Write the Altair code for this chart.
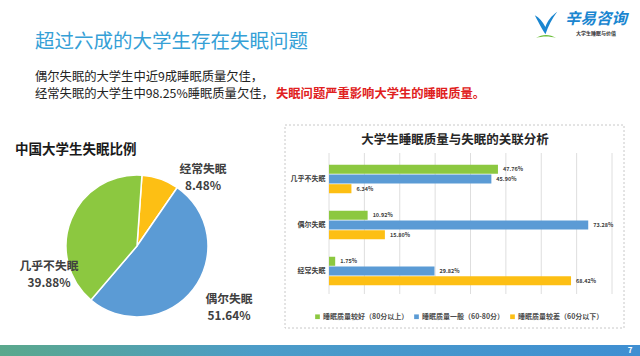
import math
import altair as alt
import pandas as pd

FONT = "Noto Sans CJK SC"

# ---------------- data ----------------
title_text = "超过六成的大学生存在失眠问题"
line1_text = "偶尔失眠的大学生中近9成睡眠质量欠佳，"
line2a_text = "经常失眠的大学生中98.25%睡眠质量欠佳，"
line2b_text = "失眠问题严重影响大学生的睡眠质量。"
logo_text = "辛易咨询"
logo_sub = "大学生睡眠与价值"
page_no = "7"

pie_title = "中国大学生失眠比例"
pie_categories = ["经常失眠", "偶尔失眠", "几乎不失眠"]
pie_values = [8.48, 51.64, 39.88]

bar_title = "大学生睡眠质量与失眠的关联分析"
bar_categories = ["几乎不失眠", "偶尔失眠", "经常失眠"]
series_names = ["睡眠质量较好（80分以上）", "睡眠质量一般（60-80分）", "睡眠质量较差（60分以下）"]
good_values = [47.76, 10.92, 1.75]
normal_values = [45.90, 73.28, 29.82]
poor_values = [6.34, 15.80, 68.42]
x_ticks = [0, 10, 20, 30, 40, 50, 60, 70, 80]

# ---------------- styles ----------------
pie_colors = ["#fdbf14", "#5b9bd5", "#8cc840"]
bar_colors = ["#8cc840", "#5b9bd5", "#fdbf14"]
TEXT_DARK = "#404040"

# ---------------- tables ----------------
pie_df = pd.DataFrame({
    "category": pie_categories,
    "value": pie_values,
    "idx": list(range(len(pie_categories))),
})
pie_df["pct"] = [f"{v:.2f}%" for v in pie_values]

rows = []
for i, cat in enumerate(bar_categories):
    for s, vals in zip(series_names, [good_values, normal_values, poor_values]):
        rows.append({"category": cat, "series": s, "value": vals[i], "label": f"{vals[i]:.2f}%"})
bar_df = pd.DataFrame(rows)
tick_df = pd.DataFrame({"tick": x_ticks})
one = pd.DataFrame({"d": [0]})


def txt(s, x, y, size, color=TEXT_DARK, weight="normal", align="left", style="normal"):
    return alt.Chart(pd.DataFrame({"t": [s]})).mark_text(
        font=FONT, fontSize=size, color=color, fontWeight=weight, align=align,
        baseline="middle", fontStyle=style,
    ).encode(text="t:N", x=alt.value(x), y=alt.value(y))


# ---------------- decorations ----------------
band = alt.Chart(one).mark_rect(
    color=alt.LinearGradient(
        gradient="linear", x1=0, x2=1, y1=0, y2=0,
        stops=[alt.GradientStop(color="#5aa88c", offset=0),
               alt.GradientStop(color="#4c9cc8", offset=0.4),
               alt.GradientStop(color="#3f8fd2", offset=1)],
    )
).encode(x=alt.value(0), x2=alt.value(640), y=alt.value(345), y2=alt.value(356))

box = alt.Chart(one).mark_rect(
    fillOpacity=0, stroke="#c8c8c8", strokeWidth=1, strokeDash=[2, 2]
).encode(x=alt.value(285), x2=alt.value(624), y=alt.value(125), y2=alt.value(328))

leaf = alt.Chart(one).mark_point(
    shape="M -1 -0.7 C -0.6 0.1 -0.3 0.6 -0.05 1 C 0.2 0.3 0.55 -0.4 1 -1 C 0.45 -0.6 0.15 -0.2 -0.05 0.35 C -0.3 -0.1 -0.6 -0.5 -1 -0.7 Z",
    filled=True, color="#1a86d0", size=500, opacity=1,
).encode(x=alt.value(546), y=alt.value(23))

leaf_base = alt.Chart(one).mark_point(
    shape="M -1 0.1 C -0.4 -0.3 0.4 -0.3 1 0.1 C 0.4 -0.1 -0.4 -0.1 -1 0.1 Z",
    filled=True, color="#6cbf3a", size=400, opacity=1,
).encode(x=alt.value(546), y=alt.value(37))

header = [
    txt(title_text, 35, 42, 19.5, color="#35a0d6"),
    txt(line1_text, 35, 77, 12.3, color="#222222"),
    txt(line2a_text, 35, 94, 12.3, color="#222222"),
    txt(line2b_text, 276, 94, 12.3, color="#e02020", weight="bold"),
    txt(logo_text, 596, 19, 15.5, color="#1a86d0", weight="bold", align="center", style="italic"),
    txt(logo_sub, 596, 33, 5, color="#333333", weight="bold", align="center"),
    txt(page_no, 630, 351, 8, color="white", weight="bold", align="center"),
    txt(pie_title, 15, 150, 13.5, color="#1a1a1a", weight="bold"),
    txt(bar_title, 455, 140, 12.5, color="#262626", weight="bold", align="center"),
]

# ---------------- pie ----------------
pie = alt.Chart(pie_df).mark_arc(stroke="white", strokeWidth=1.5).encode(
    theta=alt.Theta("value:Q", stack=True,
                    scale=alt.Scale(range=[0.07, 0.07 + 2 * math.pi])),
    color=alt.Color("category:N", scale=alt.Scale(domain=pie_categories, range=pie_colors),
                    legend=None),
    order=alt.Order("idx:Q"),
    x=alt.value(137), y=alt.value(246), radius=alt.value(71),
)

label_pos = {"经常失眠": (203, 177), "偶尔失眠": (229, 307), "几乎不失眠": (49, 274)}
pie_labels = []
for c, p in label_pos.items():
    for field, dy in (("category", -8.5), ("pct", 8.5)):
        pie_labels.append(
            alt.Chart(pie_df).transform_filter(alt.datum.category == c).mark_text(
                font=FONT, fontSize=11.8, fontWeight="bold", color=TEXT_DARK, align="center",
                baseline="middle",
            ).encode(text=f"{field}:N", x=alt.value(p[0]), y=alt.value(p[1] + dy))
        )

# ---------------- bars ----------------
x_enc = alt.X(
    "value:Q",
    scale=alt.Scale(domain=[0, 80], range=[329, 612], nice=False, zero=True),
    axis=alt.Axis(orient="bottom", offset=-62, values=x_ticks, grid=False, domain=False,
                  ticks=False, tickSize=0, labelPadding=3, labelFont=FONT, labelFontSize=6,
                  labelColor="#8c8c8c", title=None,
                  labelExpr="format(datum.value, '.2f') + '%'"),
)
y_enc = alt.Y(
    "category:N", sort=bar_categories,
    scale=alt.Scale(domain=bar_categories, range=[156, 294], paddingInner=0, paddingOuter=0),
    axis=alt.Axis(orient="left", offset=-327, domain=False, ticks=False, tickSize=0,
                  labelPadding=2, labelFont=FONT, labelFontSize=7, labelFontWeight="bold",
                  labelColor=TEXT_DARK, title=None, grid=False),
)
yoff_enc = alt.YOffset("series:N", sort=series_names,
                       scale=alt.Scale(domain=series_names, paddingInner=0.07, paddingOuter=0.9))

grid = alt.Chart(tick_df).mark_rule(color="#dedede", strokeWidth=1).encode(
    x=alt.X("tick:Q", scale=alt.Scale(domain=[0, 80], range=[329, 612], nice=False, zero=True),
            axis=None),
    y=alt.value(153), y2=alt.value(294),
)

bars = alt.Chart(bar_df).mark_bar().encode(
    x=x_enc, y=y_enc, yOffset=yoff_enc,
    color=alt.Color("series:N", sort=series_names,
                    scale=alt.Scale(domain=series_names, range=bar_colors),
                    legend=alt.Legend(orient="none", legendX=314, legendY=313,
                                      direction="horizontal", title=None, symbolType="square",
                                      symbolSize=22, symbolStrokeWidth=0, labelFont=FONT,
                                      labelFontSize=7, labelColor="#4d4d4d",
                                      labelFontWeight="bold", columnPadding=4, labelLimit=0,
                                      labelOffset=2)),
)

value_labels = alt.Chart(bar_df).mark_text(
    font=FONT, fontSize=5.5, fontWeight="bold", color=TEXT_DARK, align="left",
    baseline="middle", dx=5,
).encode(x=alt.X("value:Q"), y=alt.Y("category:N", sort=bar_categories),
         yOffset=alt.YOffset("series:N", sort=series_names), text="label:N")

chart = alt.layer(
    band, box, leaf, leaf_base, *header, pie, *pie_labels, grid, bars, value_labels
).resolve_scale(color="independent").properties(
    width=640, height=356, padding=0,
    autosize=alt.AutoSizeParams(type="none"),
    background="white",
).configure_view(strokeWidth=0)

chart.save("out.html", embed_options={"renderer": "svg", "actions": False})
